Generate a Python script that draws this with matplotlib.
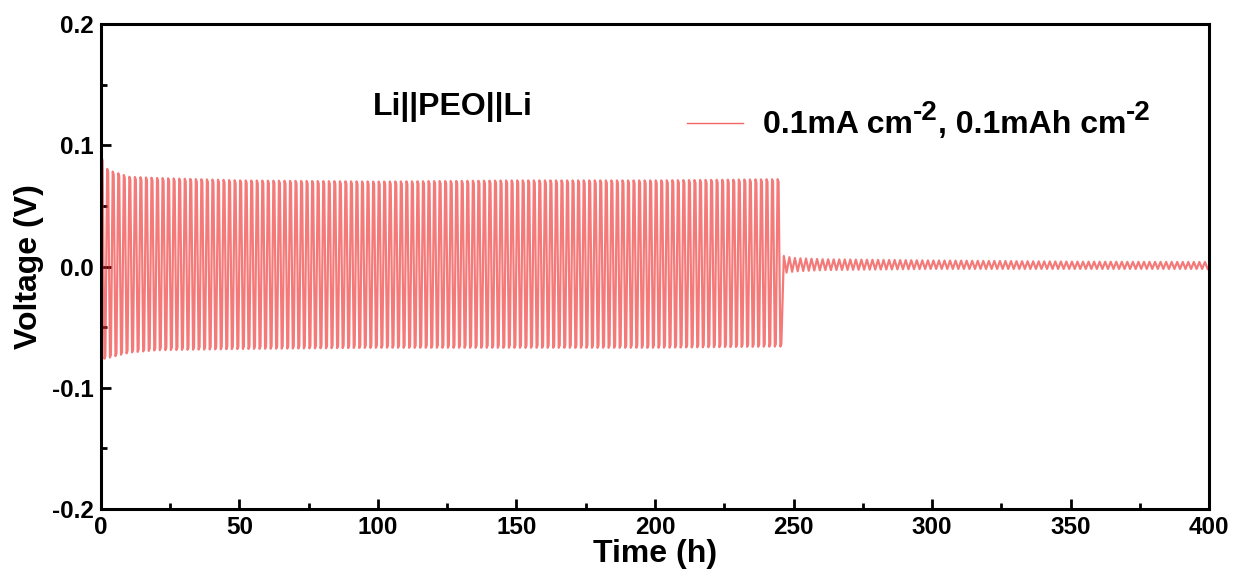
import numpy as np
import matplotlib.pyplot as plt
from matplotlib.lines import Line2D
from matplotlib.ticker import MultipleLocator

plt.rcParams['font.family'] = ['Liberation Sans', 'DejaVu Sans']
plt.rcParams['font.weight'] = 'bold'

# enveloppe (V), cyclage avant le court-circuit
env_t = [0, 1, 3, 10, 20, 50, 100, 150, 200, 244, 245.3]
env_up = [0.090, 0.082, 0.079, 0.074, 0.073, 0.071, 0.070, 0.071, 0.071, 0.072, 0.070]
env_low = [-0.078, -0.076, -0.075, -0.071, -0.069, -0.068, -0.067, -0.067, -0.067, -0.066, -0.066]

# après 245 h : très faible polarisation
tail_t = [245.5, 247, 250, 260, 300, 350, 400]
tail_up = [0.009, 0.008, 0.007, 0.006, 0.005, 0.004, 0.0037]
tail_low = [-0.007, -0.005, -0.004, -0.003, -0.002, -0.002, -0.002]

half = 1.0  # 0.1 mAh cm-2 à 0.1 mA cm-2 -> 1 h par demi-cycle
red = '#ee2222'

t_all, v_all = [], []
t0 = 0.0
sign = 1
while t0 < 400:
    if t0 < 245.3:
        hi = np.interp(t0, env_t, env_up)
        lo = np.interp(t0, env_t, env_low)
        peak = hi if sign > 0 else lo
        t_all += [t0 + 0.25, t0 + 0.6]
        v_all += [peak, peak * 0.97]
    else:
        hi = np.interp(t0, tail_t, tail_up)
        lo = np.interp(t0, tail_t, tail_low)
        peak = hi if sign > 0 else lo
        t_all += [t0 + 0.5]
        v_all += [peak]
    t0 += half
    sign = -sign

fig = plt.figure(figsize=(12.34, 5.84), dpi=100)
ax = fig.add_axes([0.0818, 0.1284, 0.898, 0.8305])
ax.plot(t_all, v_all, color=red, lw=1.6, alpha=0.6)

ax.set_xlim(0, 400)
ax.set_ylim(-0.2, 0.2)
ax.xaxis.set_major_locator(MultipleLocator(50))
ax.xaxis.set_minor_locator(MultipleLocator(25))
ax.yaxis.set_major_locator(MultipleLocator(0.1))
ax.yaxis.set_minor_locator(MultipleLocator(0.05))
ax.yaxis.set_major_formatter(plt.FuncFormatter(lambda v, p: f'{v:.1f}'))

for s in ax.spines.values():
    s.set_linewidth(2.2)
ax.tick_params(which='major', direction='in', length=7, width=2, labelsize=17.5, pad=5)
ax.tick_params(which='minor', direction='in', length=4, width=2)
ax.tick_params(top=False, right=False, which='both')

ax.set_xlabel('Time (h)', fontsize=23, fontweight='bold', labelpad=0)
ax.set_ylabel('Voltage (V)', fontsize=23, fontweight='bold', labelpad=6)

ax.text(0.2455, 0.812, 'Li||PEO||Li', transform=ax.transAxes, fontsize=23,
        fontweight='bold', va='baseline')

# légende faite à la main (exposants presque pleine taille)
ax.add_line(Line2D([0.5289, 0.5794], [0.7959, 0.7959], transform=ax.transAxes,
                   color=red, lw=1.0, alpha=0.7))
pieces = ['0.1mA cm', '-2', ', 0.1mAh cm', '-2']
sizes = [23, 20, 23, 20]
rise = 10
prev = ax.text(0.5975, 0.761, pieces[0], transform=ax.transAxes, fontsize=sizes[0],
               fontweight='bold', va='bottom')
for i in range(1, len(pieces)):
    dy = rise if i % 2 == 1 else -rise
    prev = ax.annotate(pieces[i], xy=(1, 0), xycoords=prev, xytext=(0, dy),
                       textcoords='offset points', fontsize=sizes[i],
                       fontweight='bold', va='bottom', ha='left')

fig.savefig('out.png', dpi=100)
